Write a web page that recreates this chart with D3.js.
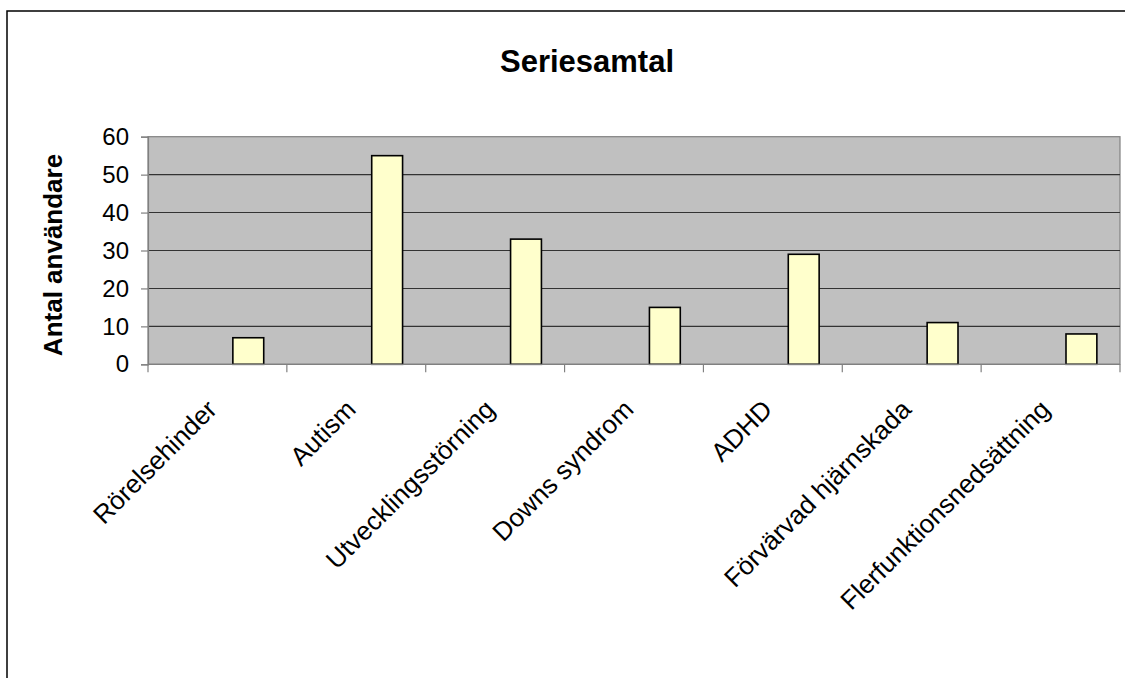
<!DOCTYPE html>
<html>
<head>
<meta charset="utf-8">
<script src="https://cdn.jsdelivr.net/npm/d3@7"></script>
<style>
  body { margin: 0; background: #fff; }
  svg { display: block; font-family: Arial, "Liberation Sans", sans-serif; }
</style>
</head>
<body>
<svg id="chart" width="1125" height="678"></svg>
<script>
// data
var categories = ["Rörelsehinder", "Autism", "Utvecklingsstörning", "Downs syndrom",
                  "ADHD", "Förvärvad hjärnskada", "Flerfunktionsnedsättning"];
var values = [7, 55, 33, 15, 29, 11, 8];
var yTicks = [0, 10, 20, 30, 40, 50, 60];
var title = "Seriesamtal";
var yTitle = "Antal användare";

// excel leaves room for 3 series per category, the data sits in the last slot
var slots = [0, 1, 2];
var dataSlot = 2;

var svg = d3.select('#chart');

var plot = { left: 148, right: 1120, top: 136.7, bottom: 364.3 };

const x = d3.scaleBand()
  .domain(categories)
  .range([plot.left, plot.right])
  .padding(0);

const bw = x.bandwidth();
const slot = d3.scaleBand()
  .domain(slots)
  .range([bw / 6, bw * 5 / 6]);

const y = d3.scaleLinear()
  .domain([0, 60])
  .range([plot.bottom, plot.top]);

// outer frame, runs off the right and bottom edge
svg.append('rect')
  .attr('x', 7).attr('y', 11)
  .attr('width', 1300).attr('height', 900)
  .attr('fill', '#fff')
  .attr('stroke', '#000')
  .attr('stroke-width', 1.5);

// plot area
svg.append('rect')
  .attr('x', plot.left).attr('y', plot.top)
  .attr('width', plot.right - plot.left)
  .attr('height', plot.bottom - plot.top)
  .attr('fill', '#c0c0c0')
  .attr('stroke', '#808080')
  .attr('stroke-width', 1.2);

// gridlines
svg.append('g')
  .selectAll('line')
  .data(yTicks.filter(d => d > 0 && d < 60))
  .enter().append('line')
  .attr('x1', plot.left).attr('x2', plot.right)
  .attr('y1', d => y(d)).attr('y2', d => y(d))
  .attr('stroke', '#333')
  .attr('stroke-width', 1.1);

// bars
svg.append('g')
  .selectAll('rect')
  .data(values)
  .enter().append('rect')
  .attr('x', (d, i) => x(categories[i]) + slot(dataSlot))
  .attr('width', slot.bandwidth())
  .attr('y', d => y(d))
  .attr('height', d => y(0) - y(d))
  .attr('fill', '#ffffcc')
  .attr('stroke', '#000')
  .attr('stroke-width', 1.6);

// y axis
const yAxis = d3.axisLeft(y)
  .tickValues(yTicks)
  .tickSize(7)
  .tickPadding(12);

const gy = svg.append('g')
  .attr('transform', `translate(${plot.left},0)`)
  .call(yAxis);
gy.select('.domain').attr('stroke', '#808080').attr('stroke-width', 1.2);
gy.selectAll('.tick line').attr('stroke', '#808080').attr('stroke-width', 1.2);
gy.selectAll('.tick text')
  .attr('font-size', '24px')
  .attr('fill', '#000')
  .attr('font-family', 'Arial, "Liberation Sans", sans-serif');

// x axis: ticks sit on category borders
const gx = svg.append('g');
gx.append('line')
  .attr('x1', plot.left).attr('x2', plot.right)
  .attr('y1', plot.bottom).attr('y2', plot.bottom)
  .attr('stroke', '#808080').attr('stroke-width', 1.2);
gx.selectAll('line.tk')
  .data(categories.concat(['end']))
  .enter().append('line')
  .attr('class', 'tk')
  .attr('x1', (d, i) => i < categories.length ? x(d) : plot.right)
  .attr('x2', (d, i) => i < categories.length ? x(d) : plot.right)
  .attr('y1', plot.bottom).attr('y2', plot.bottom + 8)
  .attr('stroke', '#808080').attr('stroke-width', 1.2);

gx.selectAll('text')
  .data(categories)
  .enter().append('text')
  .attr('transform', d => `translate(${x(d) + bw / 2 + 1},411) rotate(-45)`)
  .attr('text-anchor', 'end')
  .attr('font-size', '26px')
  .text(d => d);

// titles
svg.append('text')
  .attr('x', 587).attr('y', 72)
  .attr('text-anchor', 'middle')
  .attr('font-size', '31px')
  .attr('font-weight', 'bold')
  .text(title);

svg.append('text')
  .attr('transform', `translate(62,255) rotate(-90)`)
  .attr('text-anchor', 'middle')
  .attr('font-size', '26px')
  .attr('font-weight', 'bold')
  .text(yTitle);
</script>
</body>
</html>
